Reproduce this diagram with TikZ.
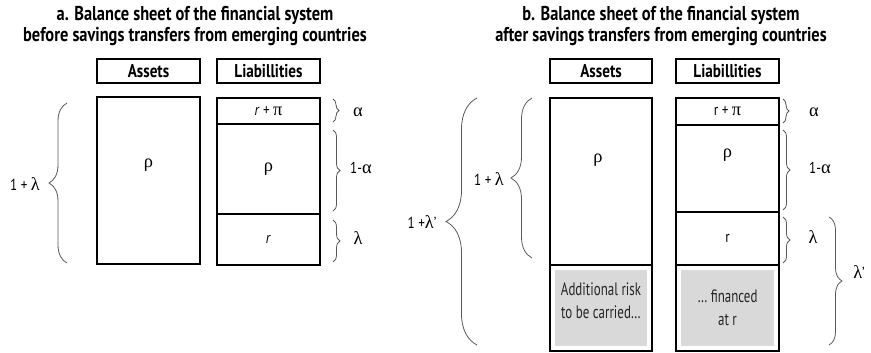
\documentclass[tikz,border=0pt]{standalone}
\usepackage{fontspec}
\setmainfont{PT Sans}[FakeStretch=0.82]
\newfontfamily\cnd{PT Sans}[FakeStretch=0.72]
\newfontfamily\grk{Liberation Serif}[Scale=1.15]
\usetikzlibrary{positioning,decorations.pathreplacing}
\newcommand{\gr}[1]{{\grk #1}}
\tikzset{
  ttl/.style={align=center, font=\bfseries\fontsize{20}{21}\selectfont},
  hdr/.style={draw, line width=2.1pt, minimum width=103pt, minimum height=24pt, inner sep=0pt, outer sep=0pt, font=\bfseries\fontsize{18.5}{20}\selectfont},
  cell/.style={draw, line width=2.1pt, minimum width=103pt, inner sep=0pt, outer sep=0pt, align=center, font=\fontsize{16}{23}\selectfont},
  grey/.style={fill=black!15},
  note/.style={align=center, font=\cnd\fontsize{18}{23}\selectfont, text=black!85},
  brc/.style={decorate, decoration={brace, amplitude=#1}, draw=black!65, line width=0.8pt},
  lbl/.style={font=\fontsize{16}{18}\selectfont},
}
\begin{document}
\begin{tikzpicture}[x=1pt, y=-1pt]
\useasboundingbox (0,0) rectangle (871,353);

% a. before
\node[ttl] (ttlA) at (195,26) {a. Balance sheet of the financial system\\before savings transfers from emerging countries};
\node[hdr] (hdrA1) at (148.5,71) {Assets};
\node[hdr] (hdrL1) at (268.5,71) {Liabillities};
\node[cell, minimum height=167pt, anchor=north] (astA) at (148.5,97) {};
\node[lbl] (rhoA) at (148.5,165) {\gr{ρ}};
\node[cell, minimum height=26pt, anchor=north] (rpA) at (268.5,98) {\textit{r} + \gr{π}};
\node[cell, minimum height=90pt, below=0pt of rpA] (rhoL1) {\gr{ρ}};
\node[cell, minimum height=51pt, below=0pt of rhoL1] (rA) {\textit{r}};

\draw[brc=6pt] ([xshift=13pt,yshift=-1pt]rpA.north east) -- ([xshift=13pt,yshift=2pt]rpA.south east);
\draw[brc=7pt] ([xshift=13pt,yshift=-6pt]rhoL1.north east) -- ([xshift=13pt,yshift=3pt]rhoL1.south east);
\draw[brc=7pt] ([xshift=13pt,yshift=-6pt]rA.north east) -- ([xshift=13pt,yshift=3pt]rA.south east);
\draw[brc=18pt] ([xshift=-30pt,yshift=1pt]astA.south west) -- ([xshift=-30pt,yshift=-6pt]astA.north west);
\node[lbl] (alA) at (358,112) {\gr{α}};
\node[lbl] (omA) at (361,168) {1-\gr{α}};
\node[lbl] (laA) at (358,238) {\gr{λ}};
\node[lbl] (totA) at (25,184) {1 + \gr{λ}};

% b. after
\node[ttl] (ttlB) at (661,26) {b. Balance sheet of the financial system\\after savings transfers from emerging countries};
\node[hdr, minimum width=102pt] (hdrA2) at (601,71) {Assets};
\node[hdr] (hdrL2) at (727.5,71) {Liabillities};
\node[cell, minimum width=102pt, minimum height=167pt, anchor=north] (astB) at (601,98) {};
\node[lbl] (rhoB) at (598,160) {\gr{ρ}};
\node[cell, minimum width=102pt, minimum height=86pt, below=0pt of astB] (addB) {};
\fill[grey] ([shift={(5pt,-5pt)}]addB.north west) rectangle ([shift={(-5pt,5pt)}]addB.south east);
\node[note] (addT) at (601,301) {Additional risk\\to be carried…};
\node[cell, minimum height=27pt, anchor=north] (rpB) at (727.5,98) {r + \gr{π}};
\node[cell, minimum height=87pt, below=0pt of rpB] (rhoL2) {};
\node[lbl] (rhoL2t) at (727.5,155) {\gr{ρ}};
\node[cell, minimum height=53pt, below=0pt of rhoL2] (rB) {r};
\node[cell, minimum height=86pt, below=0pt of rB] (finB) {};
\fill[grey] ([shift={(5pt,-5pt)}]finB.north west) rectangle ([shift={(-5pt,5pt)}]finB.south east);
\node[note] (finT) at (727.5,308) {… financed\\at r};

\draw[brc=6pt] ([xshift=4pt,yshift=-1pt]rpB.north east) -- ([xshift=4pt,yshift=2pt]rpB.south east);
\draw[brc=7pt] ([xshift=4pt,yshift=-5pt]rhoL2.north east) -- ([xshift=4pt,yshift=2pt]rhoL2.south east);
\draw[brc=7pt] ([xshift=4pt,yshift=-5pt]rB.north east) -- ([xshift=4pt,yshift=2pt]rB.south east);
\draw[brc=13pt] ([xshift=50pt,yshift=-5pt]rB.north east) -- ([xshift=50pt,yshift=6pt]finB.south east);
\draw[brc=21pt] ([xshift=-18pt,yshift=7pt]astB.south west) -- ([xshift=-18pt]astB.north west);
\draw[brc=31pt] ([xshift=-73pt,yshift=6pt]addB.south west) -- ([xshift=-73pt]astB.north west);
\node[lbl] (alB) at (814,112) {\gr{α}};
\node[lbl] (omB) at (820,168) {1-\gr{α}};
\node[lbl] (laB) at (813,237) {\gr{λ}};
\node[lbl] (lapB) at (859,272) {\gr{λ}'};
\node[lbl] (totB) at (489,179) {1 + \gr{λ}};
\node[lbl] (totpB) at (422,222) {1 +\gr{λ}'};
\end{tikzpicture}
\end{document}
